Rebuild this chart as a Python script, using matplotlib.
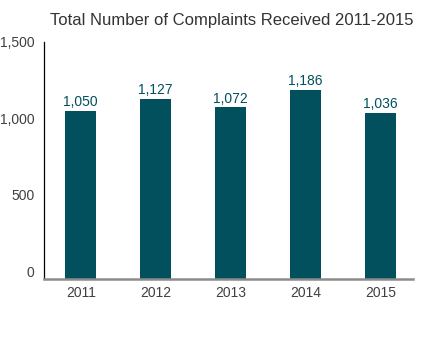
import matplotlib
matplotlib.use('Agg')
import matplotlib.pyplot as plt

# data
years = ['2011', '2012', '2013', '2014', '2015']
complaints = [1050, 1127, 1072, 1186, 1036]
yticks = [0, 500, 1000, 1500]

bar_color = '#02505e'
text_color = '#404040'

plt.rcParams['font.family'] = ['Liberation Sans', 'DejaVu Sans']

fig = plt.figure(figsize=(4.39, 3.38), dpi=100)
ax = fig.add_axes([0.1002, 0.1746, 0.8405, 0.7012])

ymin = -49
x = range(len(years))
# bars run down to the axis line, like in the original
bars = ax.bar(x, [v - ymin for v in complaints], bottom=ymin, width=0.41, color=bar_color)

for xi, v in zip(x, complaints):
    ax.text(xi, v + 12, f'{v:,}', ha='center', va='bottom', fontsize=10, color=bar_color)

ax.set_xlim(-0.49, 4.43)
ax.set_ylim(ymin, 1500)
ax.set_xticks(list(x))
ax.set_xticklabels(years)
ax.set_yticks(yticks)
ax.set_yticklabels([f'{t:,}' for t in yticks])
ax.tick_params(axis='both', length=0, labelsize=10, colors=text_color)
ax.tick_params(axis='y', pad=7)
ax.tick_params(axis='x', pad=5)

for s in ['top', 'right']:
    ax.spines[s].set_visible(False)
ax.spines['left'].set_color('black')
ax.spines['left'].set_linewidth(0.9)
ax.spines['bottom'].set_color('#8c8c8c')
ax.spines['bottom'].set_linewidth(1.8)

fig.text(0.528, 0.94, 'Total Number of Complaints Received 2011-2015',
         ha='center', va='center', fontsize=12, color='#333333')

fig.savefig('out.png', dpi=100)
